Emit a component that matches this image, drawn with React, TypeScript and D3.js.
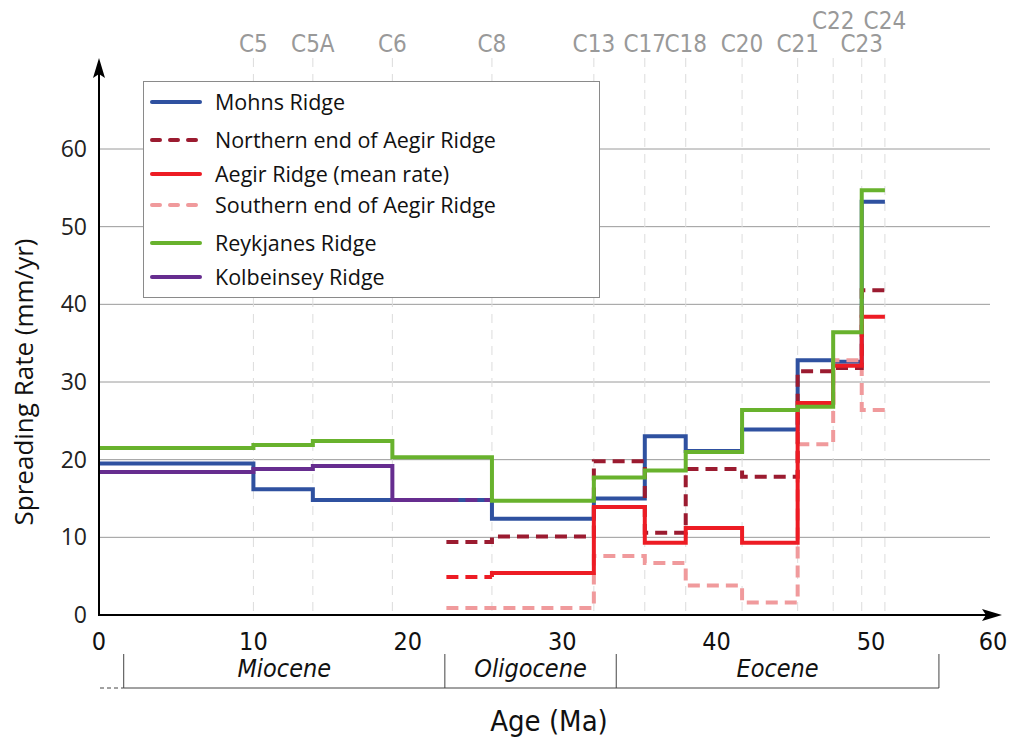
import { useEffect, useRef } from 'react';
import * as d3 from 'd3';

// magnetic chrons (top labels + dashed guide lines)
const chronNames = ['C5', 'C5A', 'C6', 'C8', 'C13', 'C17', 'C18', 'C20', 'C21', 'C22', 'C23', 'C24'];
const chronAges = [10.0, 13.85, 19.0, 25.45, 32.05, 35.35, 38.0, 41.65, 45.25, 47.55, 49.4, 50.9];
const chronRaised = ['C22', 'C24'];

// step edges (Ma)
const fullAges = [0, ...chronAges];
const aegirAges = [22.5, ...chronAges.slice(3)];

// spreading rates (mm/yr), one value per interval
const mohnsRates = [19.5, 16.2, 14.8, 14.8, 12.4, 15.0, 23.0, 21.1, 23.9, 32.8, 32.6, 53.2];
const reykjanesRates = [21.5, 21.9, 22.4, 20.3, 14.7, 17.7, 18.6, 21.0, 26.4, 26.8, 36.4, 54.7];
const kolbeinseyAges = [0, 10.0, 13.85, 19.0, 22.5];
const kolbeinseyRates = [18.4, 18.8, 19.2, 14.8];
const kolbeinseyDashedAges = [22.5, 25.45];
const kolbeinseyDashedRates = [14.8];
const northernRates = [9.4, 10.1, 19.8, 10.6, 18.8, 17.8, 31.4, 31.8, 41.8];
const meanDashedAges = [22.5, 25.45];
const meanDashedRates = [4.9];
const meanAges = aegirAges.slice(1);
const meanRates = [5.4, 13.9, 9.3, 11.2, 9.3, 27.3, 32.1, 38.4];
const southernRates = [0.9, 0.9, 7.6, 6.7, 3.8, 1.6, 22.0, 32.8, 26.4];

const epochNames = ['Miocene', 'Oligocene', 'Eocene'];
const epochBounds = [1.6, 22.4, 33.5, 54.4];

const yTicks = [0, 10, 20, 30, 40, 50, 60];
const xTicks = [0, 10, 20, 30, 40, 50];

const colors = {
  mohns: '#2f51a0',
  northern: '#9b1b30',
  mean: '#ed1c24',
  southern: '#f09a9c',
  reykjanes: '#68b22d',
  kolbeinsey: '#662d8f',
};

const legendItems = [
  { name: 'Mohns Ridge', color: colors.mohns, dashed: false },
  { name: 'Northern end of Aegir Ridge', color: colors.northern, dashed: true },
  { name: 'Aegir Ridge (mean rate)', color: colors.mean, dashed: false },
  { name: 'Southern end of Aegir Ridge', color: colors.southern, dashed: true },
  { name: 'Reykjanes Ridge', color: colors.reykjanes, dashed: false },
  { name: 'Kolbeinsey Ridge', color: colors.kolbeinsey, dashed: false },
];

const MAIN = "'Open Sans', 'Noto Sans', sans-serif";
const NARROW = "'Liberation Sans Narrow', 'DejaVu Sans Condensed', sans-serif";

// step points: each rate holds from ages[i] to ages[i+1]
function steps(ages: number[], rates: number[], startRate?: number) {
  const pts: [number, number][] = [];
  if (startRate !== undefined) pts.push([ages[0], startRate]);
  rates.forEach((r, i) => {
    pts.push([ages[i], r]);
    pts.push([ages[i + 1], r]);
  });
  return pts;
}

export default function App() {
  const svgRef = useRef<SVGSVGElement>(null);

  useEffect(() => {
    if (!svgRef.current) return;
    const svg = d3.select(svgRef.current);
    svg.selectAll('*').remove();

    const x0 = 99;
    const xAxisEnd = 1002;
    const gridEnd = 990;
    const y0 = 615;
    const yTop = 58;

    const x = d3.scaleLinear().domain([0, 50]).range([x0, 871]);
    const y = d3.scaleLinear().domain([0, 60]).range([y0, 149]);

    // horizontal grid
    svg.append('g')
      .selectAll('line')
      .data(yTicks.filter(t => t > 0))
      .join('line')
      .attr('x1', x0).attr('x2', gridEnd)
      .attr('y1', d => y(d)).attr('y2', d => y(d))
      .attr('stroke', '#9a9a9a').attr('stroke-width', 1);

    // chron guide lines
    svg.append('g')
      .selectAll('line')
      .data(chronAges)
      .join('line')
      .attr('x1', d => x(d)).attr('x2', d => x(d))
      .attr('y1', yTop).attr('y2', y0)
      .attr('stroke', '#dcdcdc').attr('stroke-width', 1)
      .attr('stroke-dasharray', '9,7');

    svg.append('g')
      .selectAll('text')
      .data(chronNames)
      .join('text')
      .attr('x', (_, i) => x(chronAges[i]))
      .attr('y', d => (chronRaised.includes(d) ? 29 : 52))
      .attr('text-anchor', 'middle')
      .style('font-family', NARROW)
      .style('font-size', '24px')
      .style('fill', '#999')
      .text(d => d);

    // series, drawn back to front
    const line = d3.line<[number, number]>().x(d => x(d[0])).y(d => y(d[1]));
    const series = [
      { pts: steps(fullAges, mohnsRates), color: colors.mohns, dash: null },
      { pts: steps(kolbeinseyAges, kolbeinseyRates), color: colors.kolbeinsey, dash: null },
      { pts: steps(kolbeinseyDashedAges, kolbeinseyDashedRates), color: colors.kolbeinsey, dash: '12,7' },
      { pts: steps(aegirAges, southernRates), color: colors.southern, dash: '12,7' },
      { pts: steps(aegirAges, northernRates), color: colors.northern, dash: '12,7' },
      { pts: steps(meanDashedAges, meanDashedRates), color: colors.mean, dash: '12,7' },
      { pts: steps(meanAges, meanRates, meanDashedRates[0]), color: colors.mean, dash: null },
      { pts: steps(fullAges, reykjanesRates), color: colors.reykjanes, dash: null },
    ];

    svg.append('g')
      .selectAll('path')
      .data(series)
      .join('path')
      .attr('d', d => line(d.pts))
      .attr('fill', 'none')
      .attr('stroke', d => d.color)
      .attr('stroke-width', 4)
      .attr('stroke-dasharray', d => d.dash)
      .attr('stroke-linejoin', 'miter');

    // axes with arrow heads
    svg.append('line')
      .attr('x1', x0).attr('x2', x0).attr('y1', y0 + 1).attr('y2', yTop + 12)
      .attr('stroke', '#000').attr('stroke-width', 2);
    svg.append('path')
      .attr('d', `M${x0},${yTop} L${x0 - 6},${yTop + 20} L${x0},${yTop + 16} L${x0 + 6},${yTop + 20} Z`)
      .attr('fill', '#000');
    svg.append('line')
      .attr('x1', x0 - 1).attr('x2', xAxisEnd - 10).attr('y1', y0).attr('y2', y0)
      .attr('stroke', '#000').attr('stroke-width', 2);
    svg.append('path')
      .attr('d', `M${xAxisEnd},${y0} L${xAxisEnd - 20},${y0 - 6} L${xAxisEnd - 16},${y0} L${xAxisEnd - 20},${y0 + 6} Z`)
      .attr('fill', '#000');

    // y tick labels
    svg.append('g')
      .selectAll('text')
      .data(yTicks)
      .join('text')
      .attr('x', 87)
      .attr('y', d => y(d) + 8)
      .attr('text-anchor', 'end')
      .style('font-family', MAIN)
      .style('font-size', '23px')
      .style('fill', '#222')
      .text(d => d);

    // x tick labels (last one sits at the arrow)
    svg.append('g')
      .selectAll('text')
      .data(xTicks)
      .join('text')
      .attr('x', d => x(d))
      .attr('y', 650)
      .attr('text-anchor', 'middle')
      .style('font-family', NARROW)
      .style('font-size', '25px')
      .style('fill', '#111')
      .text(d => d);
    svg.append('text')
      .attr('x', 993).attr('y', 650)
      .attr('text-anchor', 'middle')
      .style('font-family', NARROW)
      .style('font-size', '25px')
      .style('fill', '#111')
      .text('60');

    // epoch bar
    const ep = svg.append('g');
    ep.append('line')
      .attr('x1', x(epochBounds[0])).attr('x2', x(epochBounds[epochBounds.length - 1]))
      .attr('y1', 688).attr('y2', 688)
      .attr('stroke', '#444').attr('stroke-width', 1);
    ep.append('line')
      .attr('x1', 100).attr('x2', x(epochBounds[0]))
      .attr('y1', 688).attr('y2', 688)
      .attr('stroke', '#444').attr('stroke-width', 1)
      .attr('stroke-dasharray', '4,3');
    ep.selectAll('line.b')
      .data(epochBounds)
      .join('line')
      .attr('class', 'b')
      .attr('x1', d => x(d)).attr('x2', d => x(d))
      .attr('y1', 654).attr('y2', 688)
      .attr('stroke', '#444').attr('stroke-width', 1);
    ep.selectAll('text')
      .data(epochNames)
      .join('text')
      .attr('x', (_, i) => (x(epochBounds[i]) + x(epochBounds[i + 1])) / 2)
      .attr('y', 677)
      .attr('text-anchor', 'middle')
      .style('font-family', NARROW)
      .style('font-style', 'italic')
      .style('font-size', '25px')
      .style('fill', '#111')
      .text(d => d);

    // axis titles
    svg.append('text')
      .attr('x', 549).attr('y', 731)
      .attr('text-anchor', 'middle')
      .style('font-family', NARROW)
      .style('font-size', '29px')
      .style('fill', '#111')
      .text('Age (Ma)');
    svg.append('text')
      .attr('transform', 'translate(33,382) rotate(-90)')
      .attr('text-anchor', 'middle')
      .style('font-family', MAIN)
      .style('font-size', '26px')
      .style('fill', '#111')
      .text('Spreading Rate (mm/yr)');

    // legend
    const lg = svg.append('g');
    lg.append('rect')
      .attr('x', 143.5).attr('y', 81.5).attr('width', 456).attr('height', 216)
      .attr('fill', '#fff').attr('stroke', '#8a8a8a').attr('stroke-width', 1);
    const rowY = [102, 140, 174, 205, 243, 277];
    const rows = lg.selectAll('g.row')
      .data(legendItems)
      .join('g')
      .attr('class', 'row')
      .attr('transform', (_, i) => `translate(0,${rowY[i]})`);
    rows.append('line')
      .attr('x1', 152).attr('x2', 200)
      .attr('stroke', d => d.color)
      .attr('stroke-width', 4)
      .attr('stroke-linecap', 'round')
      .attr('stroke-dasharray', d => (d.dashed ? '8,10' : null));
    rows.append('text')
      .attr('x', 215).attr('y', 8)
      .style('font-family', MAIN)
      .style('font-size', '21.5px')
      .style('fill', '#111')
      .text(d => d.name);
  }, []);

  return (
    <div style={{ position: 'absolute', left: 0, top: 0 }}>
      <svg ref={svgRef} width={1011} height={740} style={{ display: 'block', background: '#fff' }} />
    </div>
  );
}
